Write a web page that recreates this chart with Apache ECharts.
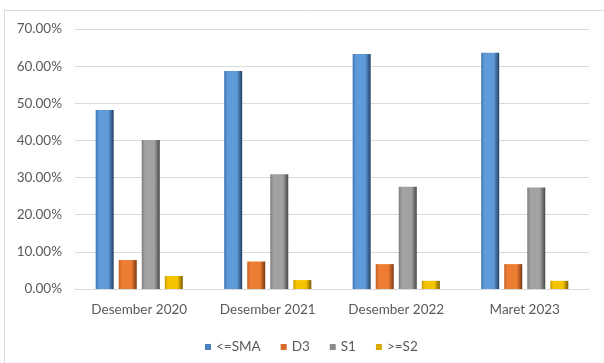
<!DOCTYPE html>
<html>
<head>
<meta charset="utf-8">
<script src="https://cdn.jsdelivr.net/npm/echarts@6/dist/echarts.min.js"></script>
<style>
  html, body { margin: 0; padding: 0; background: #ffffff; }
  #chart { width: 604px; height: 363px; }
</style>
</head>
<body>
<div id="chart"></div>
<script>
// Periods on the category axis
const categories = ['Desember 2020', 'Desember 2021', 'Desember 2022', 'Maret 2023'];

// Share per class, in percent
const smaValues = [48.2, 58.7, 63.3, 63.6];
const d3Values  = [7.8, 7.4, 6.7, 6.7];
const s1Values  = [40.1, 30.9, 27.5, 27.3];
const s2Values  = [3.5, 2.4, 2.2, 2.2];

const seriesNames = ['<=SMA', 'D3', 'S1', '>=S2'];

// Value-axis ticks
const yTicks = [0, 10, 20, 30, 40, 50, 60, 70];

// Bevelled look: dark edges, light centre
function bevel(edgeL, mid, edgeR) {
  return new echarts.graphic.LinearGradient(0, 0, 1, 0, [
    { offset: 0, color: edgeL },
    { offset: 0.18, color: mid },
    { offset: 0.7, color: mid },
    { offset: 1, color: edgeR }
  ]);
}

const palette = [
  { name: seriesNames[0], data: smaValues, fill: bevel('#3f74b3', '#5f9bd8', '#223f63'), icon: '#4a7ebf' },
  { name: seriesNames[1], data: d3Values,  fill: bevel('#c35f22', '#ee7d34', '#7a3810'), icon: '#d86d2b' },
  { name: seriesNames[2], data: s1Values,  fill: bevel('#7d7d7d', '#a2a2a2', '#474747'), icon: '#8c8c8c' },
  { name: seriesNames[3], data: s2Values,  fill: bevel('#c99a00', '#f5c400', '#7a5c00'), icon: '#d9a900' }
];

const chart = echarts.init(document.getElementById('chart'), null, { renderer: 'canvas' });

const labelFont = 'Lato, "Open Sans", sans-serif';
const labelSize = 13.5;

chart.setOption({
  animation: false,
  backgroundColor: '#ffffff',
  graphic: [{
    type: 'rect',
    shape: { x: 4.5, y: 10.5, width: 620, height: 380 },
    style: { fill: 'none', stroke: '#d9d9d9', lineWidth: 1 },
    silent: true,
    z: -1
  }],
  grid: { left: 75, right: 15, top: 29, bottom: 74 },
  legend: {
    data: seriesNames.map((n, i) => ({ name: n, itemStyle: { color: palette[i].icon } })),
    top: 335,
    left: 200,
    itemWidth: 6,
    itemHeight: 6,
    itemGap: 20,
    icon: 'rect',
    textStyle: { color: '#595959', fontSize: labelSize, fontFamily: labelFont }
  },
  xAxis: {
    type: 'category',
    data: categories,
    axisLine: { show: true, lineStyle: { color: '#d9d9d9' } },
    axisTick: { show: false },
    axisLabel: { color: '#595959', fontSize: labelSize, fontFamily: labelFont, margin: 14 }
  },
  yAxis: {
    type: 'value',
    min: yTicks[0],
    max: yTicks[yTicks.length - 1],
    interval: 10,
    axisLine: { show: false },
    axisTick: { show: false },
    splitLine: { lineStyle: { color: '#d9d9d9' } },
    axisLabel: {
      color: '#595959',
      fontSize: labelSize,
      fontFamily: labelFont,
      margin: 13,
      formatter: v => v.toFixed(2) + '%'
    }
  },
  series: palette.map(p => ({
    name: p.name,
    type: 'bar',
    data: p.data,
    barWidth: 18,
    barGap: '28%',
    barCategoryGap: '32%',
    itemStyle: { color: p.fill },
    emphasis: { disabled: true }
  }))
});
</script>
</body>
</html>
